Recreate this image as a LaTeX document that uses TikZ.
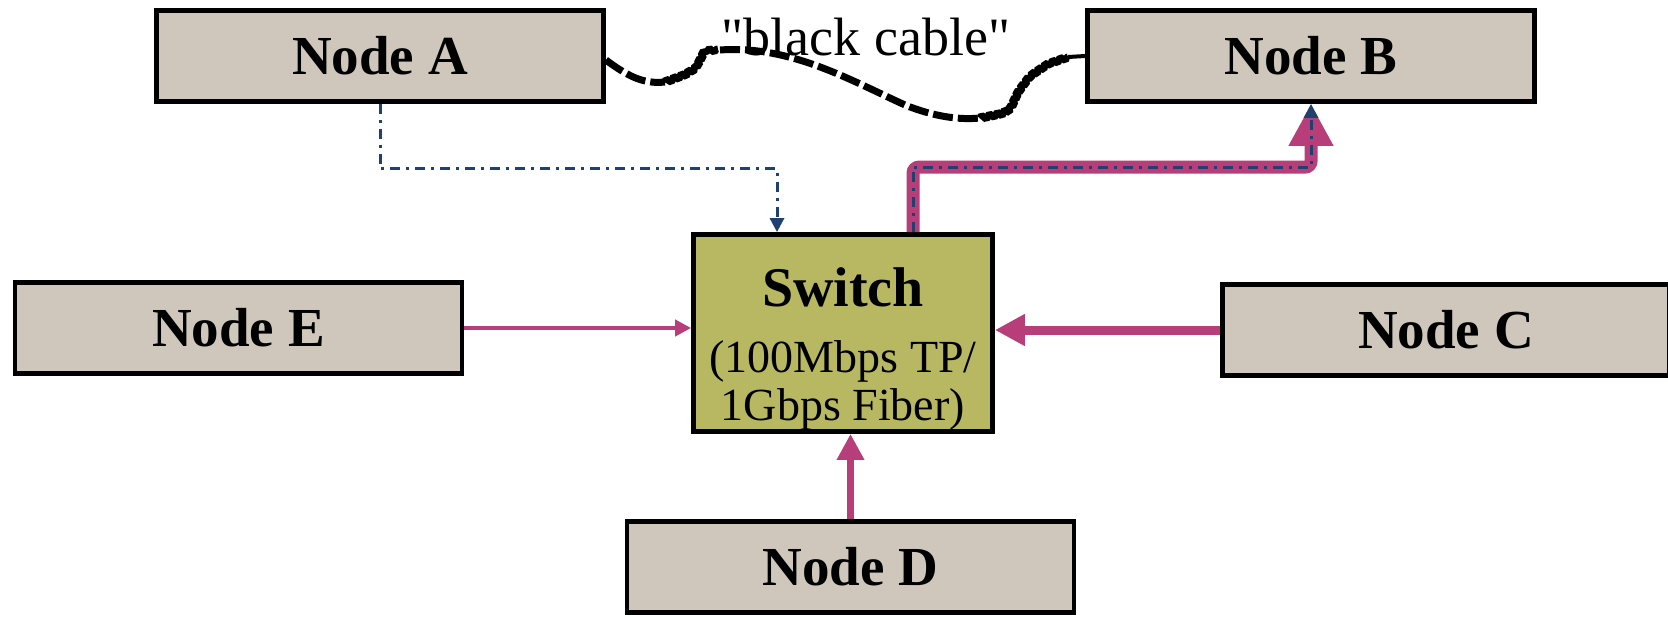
\documentclass[tikz,border=0pt]{standalone}
\usepackage{fontspec}
\setmainfont{Liberation Serif}
\newfontfamily\rawserif{Liberation Serif}[Ligatures=TeXOff]
\usetikzlibrary{arrows.meta,decorations.pathmorphing}
\definecolor{boxgray}{RGB}{207,199,187}
\definecolor{swolive}{RGB}{184,184,98}
\definecolor{linkpink}{RGB}{184,62,122}
\definecolor{ctrlblue}{RGB}{31,65,112}
\begin{document}
\begin{tikzpicture}[x=0.5pt,y=-0.5pt,
  box/.style={draw,line width=2.4pt,fill=boxgray,minimum width=223.5pt,minimum height=45.5pt,font=\fontsize{27.5}{30}\selectfont\bfseries},
  swbox/.style={draw,line width=2.4pt,fill=swolive,minimum width=149.5pt,minimum height=98.5pt,inner sep=0pt},
  ctrl/.style={ctrlblue,line width=1.5pt,dash pattern=on 5pt off 3pt on 1.5pt off 3pt,-{Triangle[length=7pt,width=7pt]}},
  link/.style={linkpink,-{Triangle[length=#1,width=#1]}},
  cable/.style={line width=3.5pt,dash pattern=on 10pt off 2.5pt},
  wiggle/.style={line width=3.5pt,line join=bevel,decorate,decoration={zigzag,segment length=4pt,amplitude=1.2pt}}]
\useasboundingbox (0,0) rectangle (1668,616);
\node(A) at (380,56) [box] {Node A};
\node(B) at (1311,56) [box] {Node B};
\node(E) at (238.5,328) [box] {Node E};
\node(C) at (1446,330) [box] {Node C};
\node(D) at (850.5,567) [box] {Node D};
\node(sw) at (843,333) [swbox] {\raisebox{-9pt}[\height][\depth]{\fontsize{23}{24}\selectfont
  \begin{tabular}{@{}c@{}}{\fontsize{28}{28}\selectfont\bfseries Switch}\\[9pt]
  (100Mbps TP/\\ 1Gbps Fiber)\end{tabular}}};
\node(lbl) at (866,55) [anchor=base,font=\fontsize{27}{30}\rawserif] {"black cable"};
% black cable between A and B
\draw[cable] ([yshift=-2pt]A.east) .. controls (630,78) and (645,84) .. (665,82);
\draw[wiggle] (665,82) -- (684,75) -- (696,68) -- (700,60) -- (704,52) -- (718,49);
\draw[cable] (720,50) .. controls (790,45) and (850,80) .. (905,105) .. controls (935,117) and (960,120) .. (980,118);
\draw[wiggle] (980,118) -- (1000,114) -- (1010,110) -- (1018,92) -- (1030,76) -- (1048,64) -- (1068,57);
\draw[line width=2pt] (1068,57) -- (B.west);
% links into the switch
\draw[link=8pt,line width=2pt] (E.east) -- (E.east -| sw.west);
\draw[link=15pt,line width=4.5pt] (C.west) -- (C.west -| sw.east);
\draw[link=13pt,line width=3.5pt] (D.north) -- (D.north |- sw.south);
\draw[link=21pt,line width=6.5pt,rounded corners=3pt] ([xshift=35pt]sw.north) -- ++(0,-65) -| (B.south);
\draw[ctrl] ([xshift=35pt]sw.north) -- ++(0,-65) -| (B.south);
\draw[ctrl] (A.south) -- ++(0,65) -| ([xshift=-33pt]sw.north);
\end{tikzpicture}
\end{document}
